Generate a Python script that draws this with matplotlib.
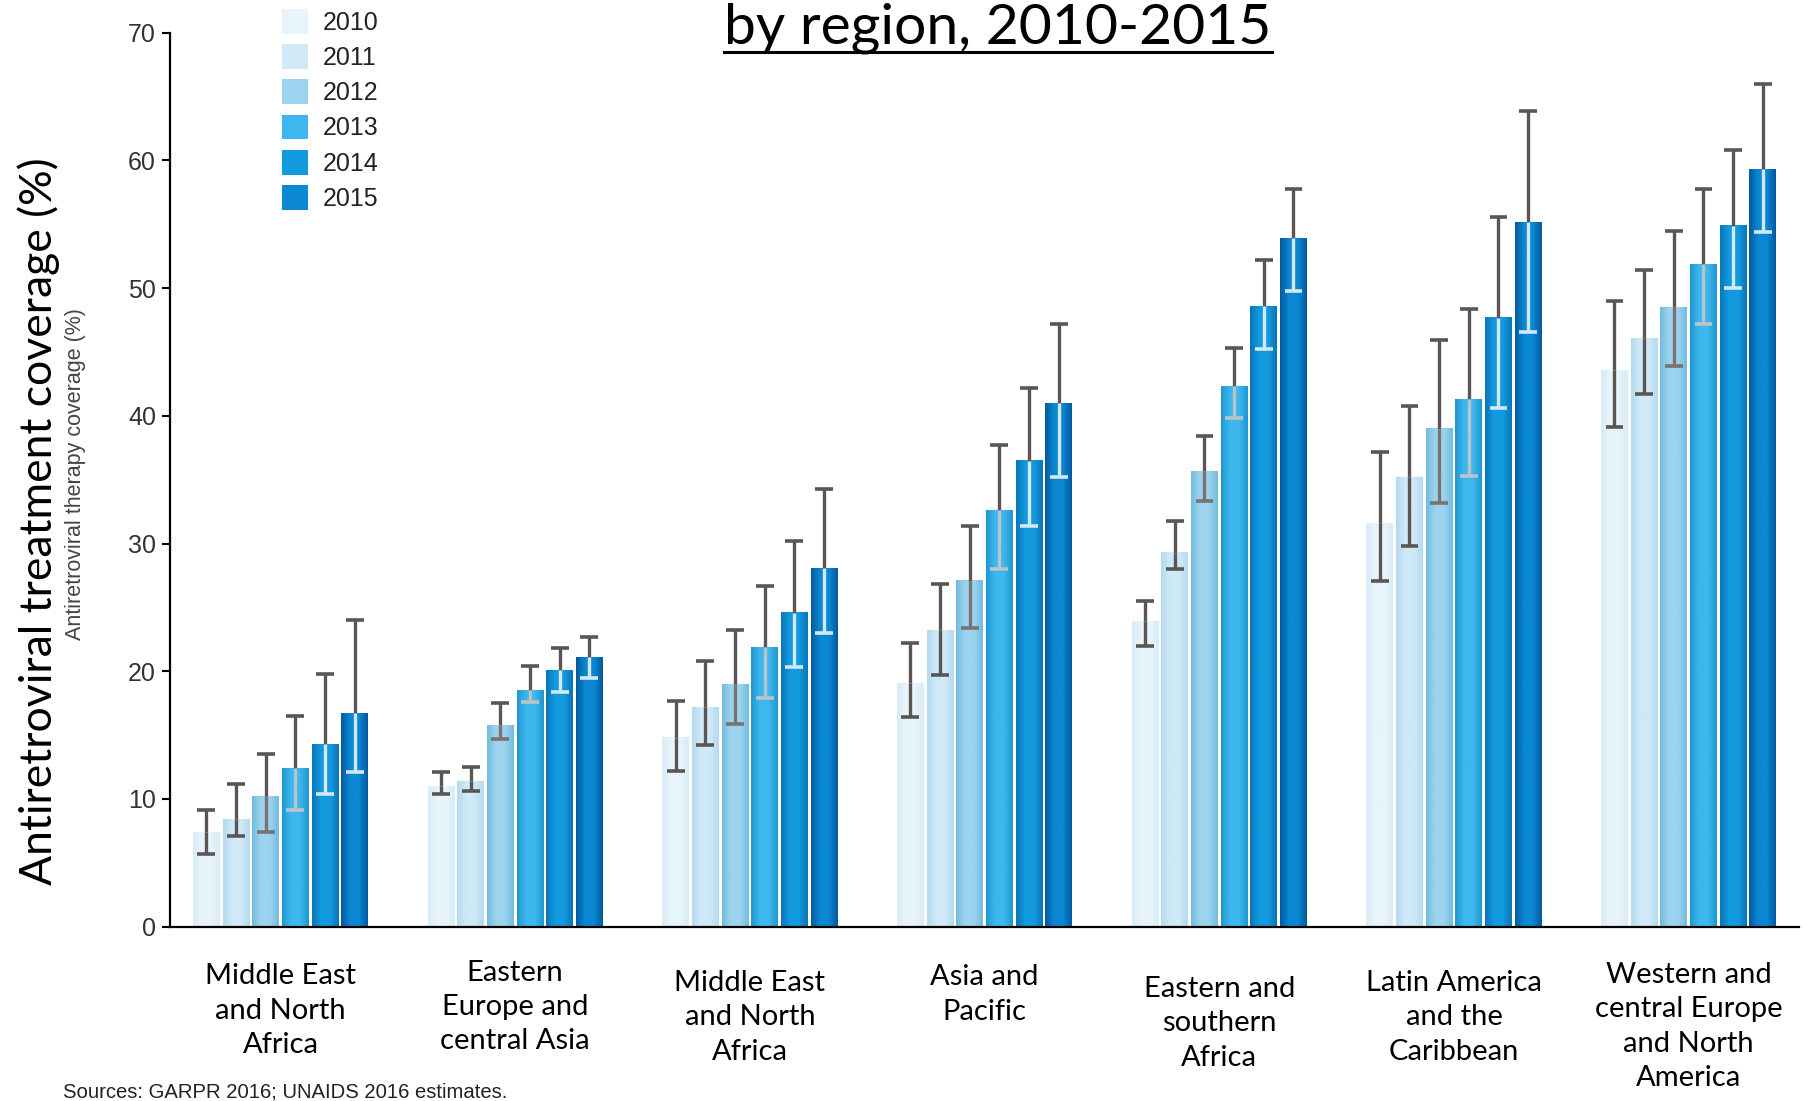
import numpy as np
import matplotlib
matplotlib.use('Agg')
import matplotlib.pyplot as plt
from matplotlib.colors import LinearSegmentedColormap
from matplotlib.lines import Line2D

regions = ['Middle East\nand North\nAfrica', 'Eastern\nEurope and\ncentral Asia',
           'Middle East\nand North\nAfrica', 'Asia and\nPacific',
           'Eastern and\nsouthern\nAfrica', 'Latin America\nand the\nCaribbean',
           'Western and\ncentral Europe\nand North\nAmerica']
years = ['2010', '2011', '2012', '2013', '2014', '2015']

# coverage (%) with lower / upper bounds, one list per year
cov_2010 = [7.4, 11.0, 14.8, 19.1, 23.9, 31.6, 43.6]
lo_2010 = [5.7, 10.4, 12.2, 16.4, 22.0, 27.1, 39.1]
hi_2010 = [9.1, 12.1, 17.7, 22.2, 25.5, 37.2, 49.0]

cov_2011 = [8.4, 11.4, 17.2, 23.2, 29.3, 35.2, 46.1]
lo_2011 = [7.1, 10.6, 14.2, 19.7, 28.0, 29.8, 41.7]
hi_2011 = [11.2, 12.5, 20.8, 26.8, 31.8, 40.8, 51.4]

cov_2012 = [10.2, 15.8, 19.0, 27.1, 35.7, 39.0, 48.5]
lo_2012 = [7.4, 14.7, 15.9, 23.4, 33.3, 33.2, 43.9]
hi_2012 = [13.5, 17.5, 23.2, 31.4, 38.4, 45.9, 54.5]

cov_2013 = [12.4, 18.5, 21.9, 32.6, 42.3, 41.3, 51.9]
lo_2013 = [9.1, 17.6, 17.9, 28.0, 39.8, 35.3, 47.2]
hi_2013 = [16.5, 20.4, 26.7, 37.7, 45.3, 48.4, 57.8]

cov_2014 = [14.3, 20.1, 24.6, 36.5, 48.6, 47.7, 54.9]
lo_2014 = [10.4, 18.4, 20.3, 31.4, 45.2, 40.6, 50.0]
hi_2014 = [19.8, 21.8, 30.2, 42.2, 52.2, 55.6, 60.8]

cov_2015 = [16.7, 21.1, 28.1, 41.0, 53.9, 55.2, 59.3]
lo_2015 = [12.1, 19.5, 23.0, 35.2, 49.8, 46.6, 54.4]
hi_2015 = [24.0, 22.7, 34.3, 47.2, 57.8, 63.9, 66.0]

coverage = [cov_2010, cov_2011, cov_2012, cov_2013, cov_2014, cov_2015]
lower = [lo_2010, lo_2011, lo_2012, lo_2013, lo_2014, lo_2015]
upper = [hi_2010, hi_2011, hi_2012, hi_2013, hi_2014, hi_2015]

# bar colours: centre / edge shade
centre_cols = ['#e8f4fb', '#cfe9f7', '#9cd4ef', '#3db8ee', '#129ade', '#0a88d4']
edge_cols = ['#d8ebf6', '#b5daef', '#72badf', '#1f96d0', '#0a75b9', '#05599e']
# lower half of the error bar looks pale where it sits inside dark bars
low_err_cols = ['#5b5654', '#5b5654', '#7a7370', '#b9c4c9', '#d2e9f5', '#d2e9f5']
err_col = '#5b5654'
# region labels sit at slightly different heights in the original (points below axis)
label_pads = [26.2, 23.7, 31.2, 27.0, 35.3, 31.2, 25.3]

fig = plt.figure(figsize=(18.08, 11.01), dpi=100)
ax = fig.add_axes([0.094, 0.1583, 0.901, 0.812])

x = np.arange(len(regions))
step = 0.1265
width = 0.114
cap = 0.038

handles = []
for i, yr in enumerate(years):
    xs = x + (i - 2.5) * step
    bars = ax.bar(xs, coverage[i], width=width, color=centre_cols[i], label=yr, zorder=2)
    handles.append(bars)
    cmap = LinearSegmentedColormap.from_list('g%d' % i, [edge_cols[i], centre_cols[i],
                                                          centre_cols[i], edge_cols[i]])
    grad = np.linspace(0, 1, 64).reshape(1, -1)
    for b in bars:
        ax.imshow(grad, extent=(b.get_x(), b.get_x() + b.get_width(), 0, b.get_height()),
                  cmap=cmap, aspect='auto', zorder=2.5, interpolation='bilinear')
    # error bars: dark above the bar top, paler below
    ax.vlines(xs, coverage[i], upper[i], color=err_col, lw=2.4, zorder=3)
    ax.hlines(upper[i], xs - cap, xs + cap, color=err_col, lw=2.6, zorder=3)
    ax.vlines(xs, lower[i], coverage[i], color=low_err_cols[i], lw=2.4, zorder=3)
    ax.hlines(lower[i], xs - cap, xs + cap, color=low_err_cols[i], lw=2.6, zorder=3)

ax.set_xlim(-0.471, 6.47)
ax.set_ylim(0, 70)
ax.set_yticks(range(0, 71, 10))
ax.tick_params(axis='y', direction='out', length=6, width=1.5, labelsize=18,
               labelcolor='#333333', pad=4)
for lab in ax.get_yticklabels():
    lab.set_family('Liberation Sans')
ax.set_xticks(x)
ax.set_xticklabels([])
ax.tick_params(axis='x', length=0)
for xi, name, pad in zip(x, regions, label_pads):
    ax.annotate(name, (xi, 0), xycoords=('data', 'axes fraction'),
                xytext=(0, -pad), textcoords='offset points', ha='center', va='top',
                fontsize=21, family='Lato', linespacing=1.4, annotation_clip=False)
for s in ['top', 'right']:
    ax.spines[s].set_visible(False)
ax.spines['left'].set_linewidth(1.6)
ax.spines['bottom'].set_linewidth(1.6)

leg = ax.legend(handles=handles, loc='upper left', bbox_to_anchor=(0.149, 1.003),
                bbox_transform=fig.transFigure, frameon=False, fontsize=18,
                handlelength=1.05, handleheight=1.15, labelspacing=0.37,
                handletextpad=0.6, borderpad=0)
for t in leg.get_texts():
    t.set_family('Liberation Sans')
    t.set_color('#222222')

fig.text(0.0215, 0.527, 'Antiretroviral treatment coverage (%)', rotation=90,
         ha='center', va='center', fontsize=32, family='Lato')
fig.text(0.0415, 0.569, 'Antiretroviral therapy coverage (%)', rotation=90,
         ha='center', va='center', fontsize=15.5, family='Liberation Sans', color='#444444')
fig.text(0.035, 0.008, 'Sources: GARPR 2016; UNAIDS 2016 estimates.', ha='left',
         va='center', fontsize=14.6, family='Liberation Sans', color='#222222')

title = fig.text(0.552, 1 - 44 / 1101, 'by region, 2010-2015', ha='center',
                 va='baseline', fontsize=41, family='Lato')
fig.canvas.draw()
bb = title.get_window_extent(renderer=fig.canvas.get_renderer())
inv = fig.transFigure.inverted()
(x0, _), (x1, _) = inv.transform([(bb.x0, 0), (bb.x1, 0)])
fig.add_artist(Line2D([x0, x1], [1 - 52 / 1101] * 2, color='black', lw=2.2,
                      transform=fig.transFigure))

fig.savefig('out.png', dpi=100)
